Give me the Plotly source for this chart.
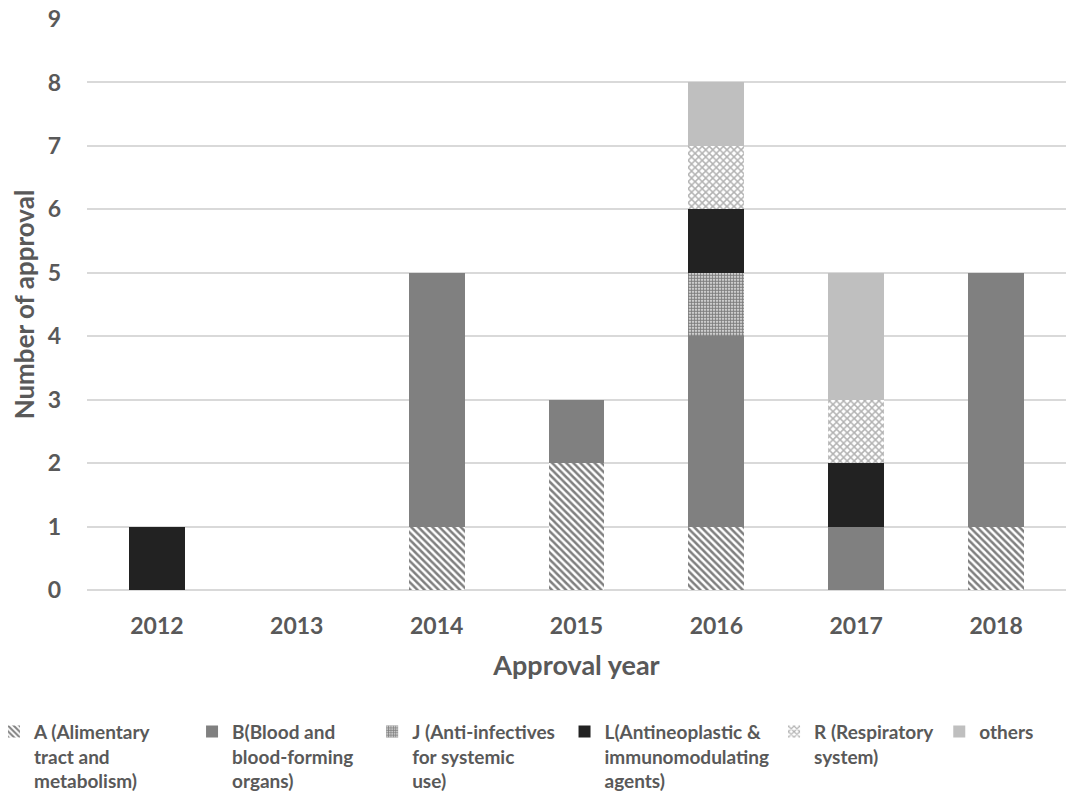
import plotly.graph_objects as go

years = ["2012", "2013", "2014", "2015", "2016", "2017", "2018"]
series_names = [
    "A (Alimentary" + "&nbsp;" * 8 + "<br>tract and<br>metabolism)",
    "B(Blood and<br>blood-forming" + "&nbsp;" * 3 + "<br>organs)",
    "J (Anti-infectives&nbsp;<br>for systemic<br>use)",
    "L(Antineoplastic &<br>immunomodulating<br>agents)",
    "R (Respiratory<br>system)",
    "others",
]
A_vals = [0, 0, 1, 2, 1, 0, 1]
B_vals = [0, 0, 4, 1, 3, 1, 4]
J_vals = [0, 0, 0, 0, 1, 0, 0]
L_vals = [1, 0, 0, 0, 1, 1, 0]
R_vals = [0, 0, 0, 0, 1, 1, 0]
others_vals = [0, 0, 0, 0, 1, 2, 0]

styles = [
    dict(color="white", pattern=dict(shape="\\", fgcolor="#000000", bgcolor="white", size=5, solidity=0.5)),
    dict(color="#808080"),
    dict(color="white", pattern=dict(shape=".", fgcolor="#000000", bgcolor="white", size=3, solidity=0.7)),
    dict(color="#222222"),
    dict(color="white", pattern=dict(shape="x", fgcolor="#666666", bgcolor="white", size=5, solidity=0.5)),
    dict(color="#bfbfbf"),
]

fig = go.Figure()
for name, vals, st in zip(series_names, [A_vals, B_vals, J_vals, L_vals, R_vals, others_vals], styles):
    marker = dict(st)
    marker["line"] = dict(width=0)
    fig.add_trace(go.Bar(x=years, y=vals, name=name, marker=marker))

fig.update_layout(
    width=1071, height=805,
    barmode="stack", bargap=0.6,
    plot_bgcolor="white", paper_bgcolor="white",
    margin=dict(l=87, r=5, t=19, b=215, autoexpand=False),
    font=dict(family="Lato", color="#595959"),
    xaxis=dict(
        title=dict(text="Approval year", font=dict(family="Lato", size=27, color="#595959", weight="bold"), standoff=18),
        tickfont=dict(family="Lato", size=23, color="#595959", weight="bold"),
        showline=False, ticks="", ticklabelstandoff=20,
    ),
    yaxis=dict(
        title=dict(text="Number of approval", font=dict(family="Lato", size=26, color="#595959", weight="bold"), standoff=5),
        range=[0, 9], dtick=1,
        tickfont=dict(family="Lato", size=23, color="#595959", weight="bold"),
        gridcolor="#d9d9d9", gridwidth=1.5,
        zeroline=True, zerolinecolor="#d9d9d9", zerolinewidth=1.5,
        ticks="", ticklabelstandoff=25,
    ),
    legend=dict(
        orientation="h", x=-0.095, xanchor="left", y=-0.215, yanchor="top",
        font=dict(family="Lato", size=19, color="#595959", weight="bold"),
        valign="top", traceorder="normal", itemwidth=30,
        tracegroupgap=0,
    ),
)

fig.write_html("out.html")
